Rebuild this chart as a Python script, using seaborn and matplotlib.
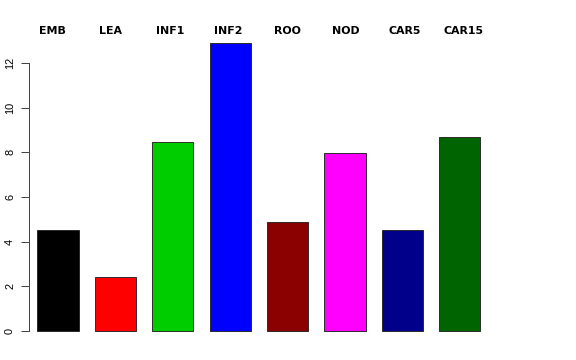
import matplotlib
matplotlib.use("Agg")
import matplotlib.pyplot as plt
import seaborn as sns
import pandas as pd

categories = ["EMB", "LEA", "INF1", "INF2", "ROO", "NOD", "CAR5", "CAR15"]
values = [4.52, 2.42, 8.46, 12.9, 4.86, 7.95, 4.50, 8.67]
colors = ["#000000", "#FF0000", "#00CD00", "#0000FF", "#8B0000", "#FF00FF", "#00008B", "#006400"]
yticks = [0, 2, 4, 6, 8, 10, 12]

sns.set_theme(style="white")
plt.rcParams["font.family"] = ["Liberation Sans", "DejaVu Sans"]

df = pd.DataFrame({"cat": categories, "val": values})

fig = plt.figure(figsize=(8, 5), dpi=72)
ax = fig.add_axes([29/576, (360-342.5)/360, 511/576, 311.1/360])
sns.barplot(data=df, x="cat", y="val", hue="cat", palette=colors, legend=False,
            width=0.716, edgecolor="#222222", linewidth=0.9, saturation=1, ax=ax)

ax.set_xlim(-0.505, 8.397)
ax.set_ylim(-0.52, 13.42)
for s in ["top", "right", "bottom"]:
    ax.spines[s].set_visible(False)
ax.spines["left"].set_bounds(0, 12)
ax.spines["left"].set_color("#444444")
ax.spines["left"].set_linewidth(1.0)
ax.set_xticks([])
ax.set_yticks(yticks)
ax.set_yticklabels([str(t) for t in yticks], rotation=90, va="center", fontsize=11, color="black")
ax.tick_params(axis="y", left=True, length=8, width=1.0, color="#444444", pad=6)
ax.set_xlabel("")
ax.set_ylabel("")

label_step = 1.024
for i, c in enumerate(categories):
    ax.text(-0.101 + i * label_step, 13.31, c, ha="center", va="baseline", fontsize=11,
            fontweight="bold", color="black", clip_on=False, family=["DejaVu Sans"])

fig.savefig("out.png", dpi=72)
